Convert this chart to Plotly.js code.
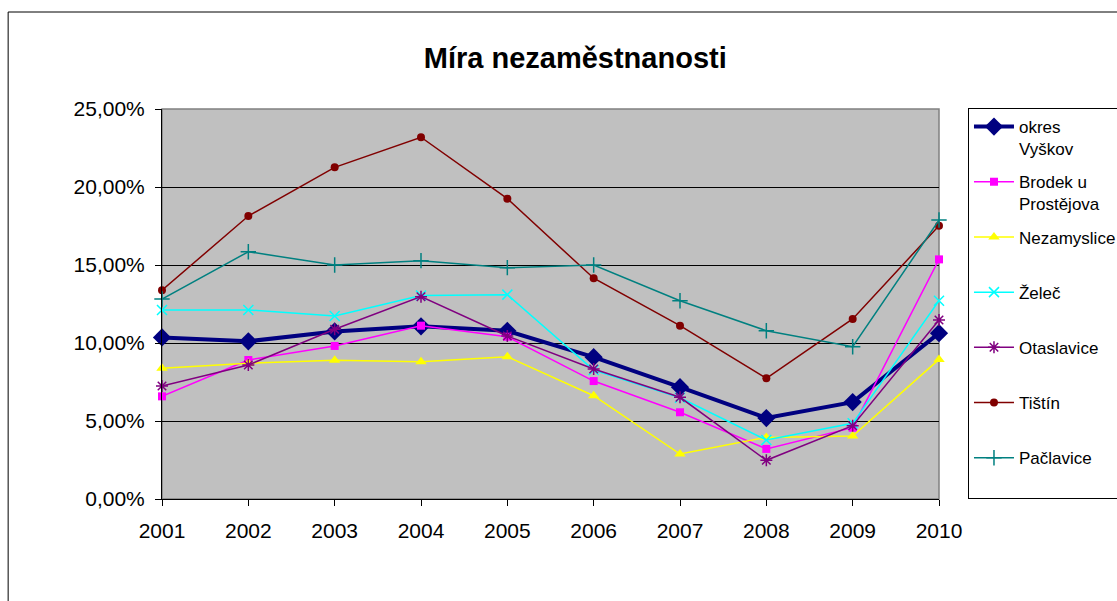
<!DOCTYPE html>
<html>
<head>
<meta charset="utf-8">
<script src="https://cdn.plot.ly/plotly-3.0.1.min.js"></script>
<style>html,body{margin:0;padding:0;background:#fff;}#chart{width:1117px;height:601px;}</style>
</head>
<body>
<div id="chart"></div>
<script>
const years = [2001, 2002, 2003, 2004, 2005, 2006, 2007, 2008, 2009, 2010];
const seriesNames = ["okres<br>Vyškov", "Brodek u<br>Prostějova", "Nezamyslice<br>&nbsp;", "Želeč<br>&nbsp;", "Otaslavice<br>&nbsp;", "Tištín<br>&nbsp;", "Pačlavice<br>&nbsp;"];
const okresVyskov = [10.36, 10.11, 10.74, 11.07, 10.78, 9.09, 7.17, 5.19, 6.21, 10.63];
const brodek = [6.58, 8.91, 9.81, 11.11, 10.40, 7.56, 5.56, 3.21, 4.57, 15.36];
const nezamyslice = [8.38, 8.70, 8.89, 8.80, 9.12, 6.62, 2.88, 3.95, 4.04, 8.95];
const zelec = [12.12, 12.12, 11.73, 13.05, 13.10, 8.27, 6.49, 3.78, 4.85, 12.71];
const otaslavice = [7.24, 8.59, 10.88, 12.97, 10.45, 8.33, 6.52, 2.48, 4.70, 11.47];
const tistin = [13.38, 18.14, 21.26, 23.19, 19.25, 14.15, 11.11, 7.74, 11.54, 17.52];
const paclavice = [12.82, 15.85, 15.00, 15.28, 14.83, 15.00, 12.71, 10.79, 9.76, 17.88];
const yTicks = [0, 5, 10, 15, 20, 25];
const yTickLabels = ["0,00%", "5,00%", "10,00%", "15,00%", "20,00%", "25,00%"];

const values = [okresVyskov, brodek, nezamyslice, zelec, otaslavice, tistin, paclavice];
const styles = [
  {color: "#000080", width: 4, symbol: "diamond", size: 14, lw: 0},
  {color: "#FF00FF", width: 1.5, symbol: "square", size: 8, lw: 0},
  {color: "#FFFF00", width: 1.5, symbol: "triangle-up", size: 10, lw: 0},
  {color: "#00FFFF", width: 1.5, symbol: "x-thin", size: 10, lw: 1.5},
  {color: "#800080", width: 1.5, symbol: "asterisk", size: 10, lw: 1.5},
  {color: "#800000", width: 1.5, symbol: "circle", size: 8, lw: 0},
  {color: "#008080", width: 1.5, symbol: "cross-thin", size: 11, lw: 1.5}
];

const traces = values.map((v, i) => ({
  type: "scatter",
  mode: "lines+markers",
  x: years,
  y: v,
  name: seriesNames[i],
  legendgroup: "g" + i,
  cliponaxis: false,
  line: {color: styles[i].color, width: styles[i].width},
  marker: {
    symbol: styles[i].symbol,
    size: styles[i].size,
    color: styles[i].color,
    line: {color: styles[i].color, width: styles[i].lw}
  }
}));

const layout = {
  width: 1117,
  height: 601,
  margin: {l: 162, r: 178, t: 109, b: 102, autoexpand: false},
  paper_bgcolor: "#FFFFFF",
  plot_bgcolor: "#C0C0C0",
  font: {family: "Liberation Sans, Arial, sans-serif", color: "#000"},
  title: {
    text: "<b>Míra nezaměstnanosti</b>",
    font: {size: 29, family: "Liberation Sans, Arial, sans-serif", color: "#000"},
    x: 0.515, xanchor: "center",
    y: 0.903, yanchor: "middle"
  },
  xaxis: {
    range: [2001, 2010],
    tickvals: years,
    ticktext: years.map(String),
    ticks: "outside",
    ticklen: 6,
    tickcolor: "#000",
    showline: true,
    linecolor: "#000",
    linewidth: 1,
    showgrid: false,
    zeroline: false,
    tickfont: {size: 21},
    ticklabelstandoff: 7,
    automargin: false,
    fixedrange: true
  },
  yaxis: {
    range: [0, 25],
    tickvals: yTicks,
    ticktext: yTickLabels,
    ticks: "outside",
    ticklen: 6,
    tickcolor: "#000",
    showline: true,
    linecolor: "#000",
    linewidth: 1,
    showgrid: true,
    gridcolor: "#000",
    gridwidth: 1,
    zeroline: false,
    tickfont: {size: 21},
    ticklabelstandoff: 6,
    automargin: false,
    fixedrange: true
  },
  legend: {
    x: 1.0373, xanchor: "left",
    y: 1.0026, yanchor: "top",
    bgcolor: "#FFFFFF",
    bordercolor: "#000",
    borderwidth: 1,
    font: {size: 17, family: "Liberation Sans, Arial, sans-serif", color: "#000"},
    valign: "top",
    tracegroupgap: 8,
    itemwidth: 40,
    maxheight: 600,
    itemclick: false,
    itemdoubleclick: false
  },
  shapes: [
    {type: "rect", xref: "paper", yref: "paper", x0: 0, x1: 1, y0: 0, y1: 1,
     line: {color: "#808080", width: 1.5}, fillcolor: "rgba(0,0,0,0)", layer: "below"},
    {type: "rect", xref: "paper", yref: "paper", x0: -0.198, x1: 1.24, y0: -0.3, y1: 1.2487,
     line: {color: "#000", width: 1}, fillcolor: "rgba(0,0,0,0)"}
  ],
  showlegend: true
};

Plotly.newPlot("chart", traces, layout, {displayModeBar: false, staticPlot: true});
</script>
</body>
</html>
